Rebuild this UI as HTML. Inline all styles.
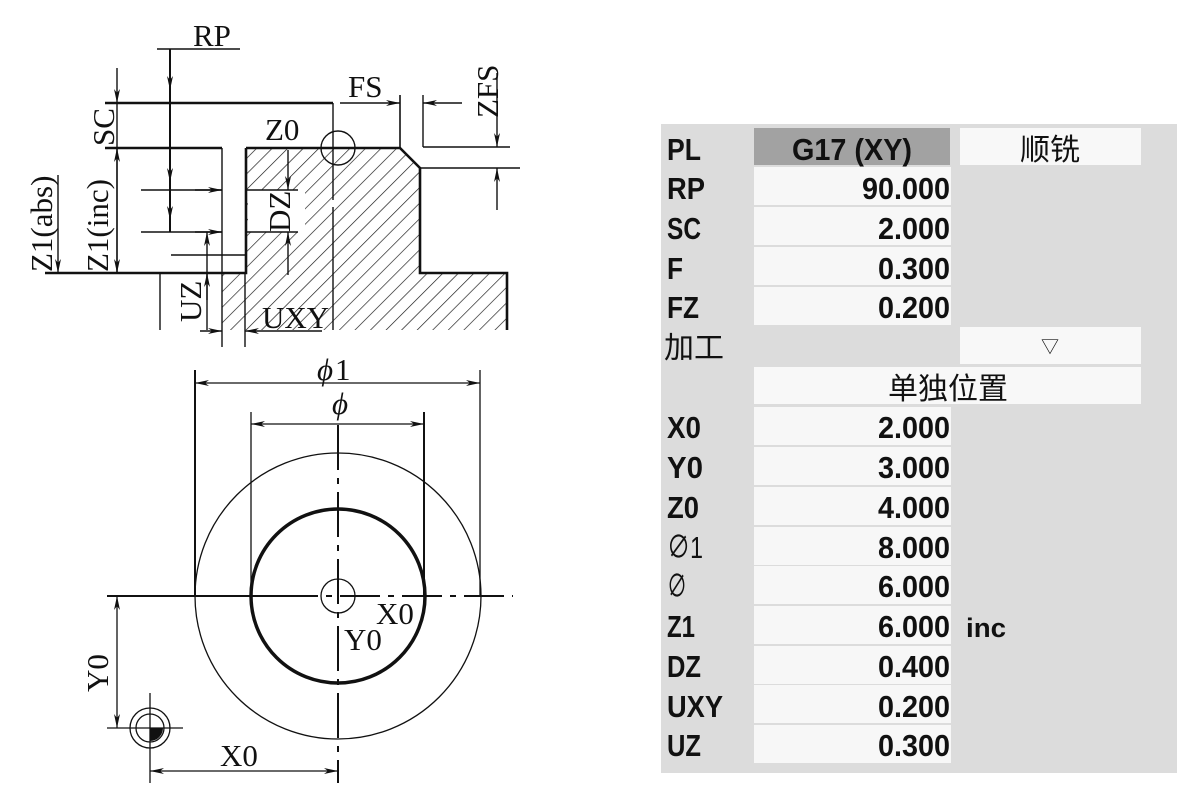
<!DOCTYPE html>
<html><head><meta charset="utf-8"><style>
html,body{margin:0;padding:0;background:#fff;}
svg{display:block}
.s{font-family:"Liberation Serif",serif;font-size:31px;fill:#111}
.p{font-family:"Liberation Sans","Noto Sans CJK SC",sans-serif;font-weight:bold;font-size:31px;fill:#111}
.c{font-family:"Liberation Sans","Noto Sans CJK SC",sans-serif;font-size:30px;fill:#111}
</style></head><body>
<svg width="1204" height="807" viewBox="0 0 1204 807" xmlns="http://www.w3.org/2000/svg">
<defs>
<pattern id="h" patternUnits="userSpaceOnUse" width="11" height="11" patternTransform="rotate(45)">
<line x1="0" y1="0" x2="0" y2="11" stroke="#111" stroke-width="1.3"/>
</pattern>
<marker id="a" viewBox="0 0 14 6" refX="14" refY="3" markerWidth="14" markerHeight="6" markerUnits="userSpaceOnUse" orient="auto-start-reverse">
<path d="M0,0 L14,3 L0,6 L4,3 Z" fill="#111"/>
</marker>
</defs>
<g stroke="#111" fill="none">
<path d="M246,148 L400,148 L420,168 L420,273 L507,273 L507,330 L222,330 L222,273 L246,273 Z M248,190 L305,190 L305,232 L248,232 Z" fill="url(#h)" fill-rule="evenodd" stroke="none"/>
<g stroke-width="2.6">
<polyline points="105,103 333,103"/>
<polyline points="105,148 222,148"/>
<polyline points="246,148 400,148 420,168 420,273 507,273 507,330"/>
<polyline points="246,148 246,273 160,273"/>
<line x1="45" y1="273" x2="160" y2="273"/>
<line x1="400" y1="95" x2="400" y2="148" stroke-width="1.6"/>
<line x1="170" y1="49" x2="170" y2="232" stroke-width="2"/>
</g>
<g stroke-width="1.4">
<line x1="157" y1="49" x2="240" y2="49"/>
<line x1="170" y1="49" x2="170" y2="90" marker-end="url(#a)"/>
<line x1="170" y1="150" x2="170" y2="182" marker-end="url(#a)"/>
<line x1="170" y1="190" x2="170" y2="220" marker-end="url(#a)"/>
<line x1="333" y1="103" x2="333" y2="200"/>
<line x1="333" y1="207" x2="333" y2="330"/>
<line x1="222" y1="148" x2="222" y2="347"/>
<line x1="245" y1="273" x2="245" y2="347"/>
<line x1="160" y1="273" x2="160" y2="330"/>
<line x1="141" y1="190" x2="222" y2="190"/>
<line x1="195" y1="190" x2="222" y2="190" marker-end="url(#a)"/>
<line x1="141" y1="232" x2="222" y2="232"/>
<line x1="195" y1="232" x2="222" y2="232" marker-end="url(#a)"/>
<line x1="171" y1="255" x2="246" y2="255"/>
<line x1="246" y1="190" x2="298" y2="190"/>
<line x1="246" y1="232" x2="298" y2="232"/>
<line x1="288" y1="150" x2="288" y2="190" marker-end="url(#a)"/>
<line x1="288" y1="275" x2="288" y2="232" marker-end="url(#a)"/>
<line x1="207" y1="330" x2="207" y2="232" marker-end="url(#a)"/>
<line x1="207" y1="300" x2="207" y2="273" marker-end="url(#a)"/>
<line x1="200" y1="331" x2="222" y2="331" marker-end="url(#a)"/>
<line x1="322" y1="331" x2="245" y2="331" marker-end="url(#a)"/>
<line x1="117" y1="68" x2="117" y2="103" marker-end="url(#a)"/>
<line x1="117" y1="103" x2="117" y2="273"/>
<line x1="117" y1="200" x2="117" y2="148" marker-end="url(#a)"/>
<line x1="117" y1="200" x2="117" y2="273" marker-end="url(#a)"/>
<line x1="58" y1="175" x2="58" y2="273" marker-end="url(#a)"/>
<line x1="340" y1="103" x2="400" y2="103" marker-end="url(#a)"/>
<line x1="462" y1="103" x2="423" y2="103" marker-end="url(#a)"/>
<line x1="423" y1="95" x2="423" y2="147"/>
<line x1="423" y1="147" x2="510" y2="147"/>
<line x1="420" y1="168" x2="520" y2="168"/>
<line x1="497" y1="73" x2="497" y2="147" marker-end="url(#a)"/>
<line x1="497" y1="210" x2="497" y2="168" marker-end="url(#a)"/>
<circle cx="338" cy="148" r="17"/>
</g>
<g stroke-width="1.3">
<circle cx="338" cy="596" r="143"/>
<circle cx="338" cy="596" r="17"/>
<line x1="107" y1="596" x2="278" y2="596" stroke-width="2"/>
<line x1="278" y1="596" x2="513" y2="596" stroke-width="2" stroke-dasharray="40,8,6,8"/>
<line x1="338" y1="425" x2="338" y2="783" stroke-width="2" stroke-dasharray="45,8,6,8"/>
<line x1="195" y1="370" x2="195" y2="596" stroke-width="2"/>
<line x1="480" y1="370" x2="480" y2="596"/>
<line x1="251" y1="412" x2="251" y2="596"/>
<line x1="424" y1="412" x2="424" y2="596" stroke-width="2"/>
<line x1="338" y1="383" x2="195" y2="383" marker-end="url(#a)"/>
<line x1="338" y1="383" x2="480" y2="383" marker-end="url(#a)"/>
<line x1="338" y1="424" x2="251" y2="424" marker-end="url(#a)"/>
<line x1="338" y1="424" x2="424" y2="424" marker-end="url(#a)"/>
<line x1="117" y1="660" x2="117" y2="596" marker-end="url(#a)"/>
<line x1="117" y1="660" x2="117" y2="728" marker-end="url(#a)"/>
<line x1="244" y1="771" x2="150" y2="771" marker-end="url(#a)"/>
<line x1="244" y1="771" x2="338" y2="771" marker-end="url(#a)"/>
<line x1="107" y1="728" x2="183" y2="728"/>
<line x1="150" y1="693" x2="150" y2="783"/>
<circle cx="150" cy="728" r="20"/>
<circle cx="150" cy="728" r="14"/>
</g>
<circle cx="338" cy="596" r="87" stroke-width="3.5"/>
<path d="M150,728 L163,728 A13,13 0 0 1 150,741 Z" fill="#111" stroke="none"/>
</g>
<g class="s">
<text x="193" y="46">RP</text>
<text x="348" y="97">FS</text>
<text x="265" y="140">Z0</text>
<text x="262" y="328">UXY</text>
<text transform="translate(114,146) rotate(-90)">SC</text>
<text transform="translate(108,272) rotate(-90)">Z1(inc)</text>
<text transform="translate(52,272) rotate(-90)">Z1(abs)</text>
<text transform="translate(290,232) rotate(-90)">DZ</text>
<text transform="translate(201,322) rotate(-90)">UZ</text>
<text transform="translate(498,118) rotate(-90)">ZFS</text>
<text transform="translate(108,692) rotate(-90)">Y0</text>
<text x="317" y="380" font-style="italic">ϕ</text><text x="335" y="380">1</text>
<text x="332" y="414" font-style="italic">ϕ</text>
<text x="376" y="624">X0</text>
<text x="344" y="650">Y0</text>
<text x="220" y="766">X0</text>
</g>
<rect x="661" y="124" width="516" height="649" fill="#dcdcdc"/>
<rect x="754" y="128" width="196" height="37" fill="#a2a2a2"/>
<rect x="960" y="128" width="181" height="37" fill="#f8f8f8"/>
<rect x="960" y="327" width="181" height="37" fill="#f8f8f8"/>
<rect x="754" y="367" width="387" height="37" fill="#f8f8f8"/>
<g fill="#f7f7f7">
<rect x="754" y="167" width="197" height="38"/>
<rect x="754" y="207" width="197" height="38"/>
<rect x="754" y="247" width="197" height="38"/>
<rect x="754" y="287" width="197" height="38"/>
<rect x="754" y="407" width="197" height="38"/>
<rect x="754" y="447" width="197" height="38"/>
<rect x="754" y="487" width="197" height="38"/>
<rect x="754" y="527" width="197" height="38"/>
<rect x="754" y="566" width="197" height="38"/>
<rect x="754" y="606" width="197" height="38"/>
<rect x="754" y="646" width="197" height="38"/>
<rect x="754" y="685" width="197" height="38"/>
<rect x="754" y="725" width="197" height="38"/>
</g>
<g class="p">
<text x="667" y="160" textLength="34" lengthAdjust="spacingAndGlyphs">PL</text>
<text x="792" y="160" textLength="120" lengthAdjust="spacingAndGlyphs">G17 (XY)</text>
<text x="667" y="199" textLength="38" lengthAdjust="spacingAndGlyphs">RP</text>
<text x="667" y="239" textLength="34" lengthAdjust="spacingAndGlyphs">SC</text>
<text x="667" y="279" textLength="16" lengthAdjust="spacingAndGlyphs">F</text>
<text x="667" y="318" textLength="32" lengthAdjust="spacingAndGlyphs">FZ</text>
<text x="667" y="438" textLength="34" lengthAdjust="spacingAndGlyphs">X0</text>
<text x="667" y="478" textLength="36" lengthAdjust="spacingAndGlyphs">Y0</text>
<text x="667" y="518" textLength="32" lengthAdjust="spacingAndGlyphs">Z0</text>
<text x="667" y="558" textLength="36" lengthAdjust="spacingAndGlyphs" font-weight="normal">∅1</text>
<text x="667" y="597" textLength="20" lengthAdjust="spacingAndGlyphs" font-weight="normal">∅</text>
<text x="667" y="637" textLength="28" lengthAdjust="spacingAndGlyphs">Z1</text>
<text x="667" y="677" textLength="34" lengthAdjust="spacingAndGlyphs">DZ</text>
<text x="667" y="717" textLength="56" lengthAdjust="spacingAndGlyphs">UXY</text>
<text x="667" y="756" textLength="34" lengthAdjust="spacingAndGlyphs">UZ</text>
<text x="966" y="637" textLength="40" lengthAdjust="spacingAndGlyphs" font-size="27">inc</text>
<g text-anchor="end">
<text x="950" y="199" textLength="88" lengthAdjust="spacingAndGlyphs">90.000</text>
<text x="950" y="239" textLength="72" lengthAdjust="spacingAndGlyphs">2.000</text>
<text x="950" y="279" textLength="72" lengthAdjust="spacingAndGlyphs">0.300</text>
<text x="950" y="318" textLength="72" lengthAdjust="spacingAndGlyphs">0.200</text>
<text x="950" y="438" textLength="72" lengthAdjust="spacingAndGlyphs">2.000</text>
<text x="950" y="478" textLength="72" lengthAdjust="spacingAndGlyphs">3.000</text>
<text x="950" y="518" textLength="72" lengthAdjust="spacingAndGlyphs">4.000</text>
<text x="950" y="558" textLength="72" lengthAdjust="spacingAndGlyphs">8.000</text>
<text x="950" y="597" textLength="72" lengthAdjust="spacingAndGlyphs">6.000</text>
<text x="950" y="637" textLength="72" lengthAdjust="spacingAndGlyphs">6.000</text>
<text x="950" y="677" textLength="72" lengthAdjust="spacingAndGlyphs">0.400</text>
<text x="950" y="717" textLength="72" lengthAdjust="spacingAndGlyphs">0.200</text>
<text x="950" y="756" textLength="72" lengthAdjust="spacingAndGlyphs">0.300</text>
</g>
</g>
<g class="c">
<text x="1050" y="160" text-anchor="middle">顺铣</text>
<text x="664" y="358">加工</text>
<text x="948" y="399" text-anchor="middle">单独位置</text>
<text x="1050" y="353" text-anchor="middle" font-size="18">▽</text>
</g>
</svg>
</body></html>
